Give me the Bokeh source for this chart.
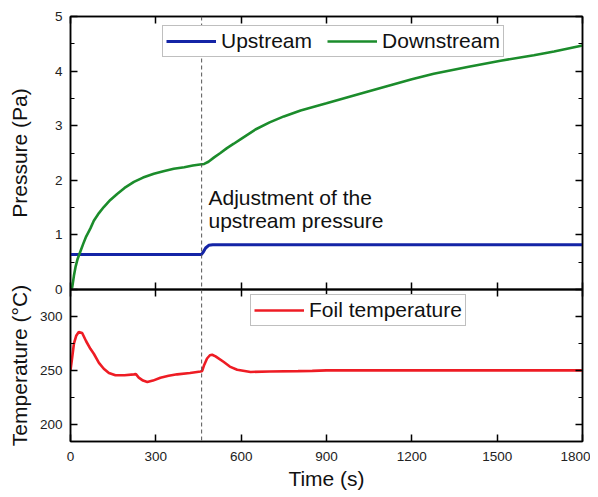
from bokeh.plotting import figure
from bokeh.models import (Range1d, SingleIntervalTicker, LinearAxis, Span, Legend,
                          LegendItem, Label)
from bokeh.layouts import column
from bokeh.embed import file_html
from bokeh.resources import INLINE

# ---------------- data ----------------
up_t = [0, 460, 466, 475, 486, 500, 1800]
up_p = [0.64, 0.64, 0.68, 0.76, 0.81, 0.82, 0.82]

down_t = [0, 6, 12, 18, 25, 35, 45, 55, 70, 82, 100, 117, 140, 164, 190, 223, 255,
          293, 330, 363, 400, 430, 455, 470, 485, 505, 527, 550, 574, 600, 650, 700,
          750, 809, 900, 1043, 1200, 1277, 1400, 1512, 1629, 1700, 1800]
down_p = [0.0, 0.04, 0.25, 0.42, 0.56, 0.70, 0.84, 0.97, 1.12, 1.26, 1.40, 1.51, 1.64,
          1.75, 1.86, 1.97, 2.05, 2.12, 2.17, 2.21, 2.24, 2.27, 2.29, 2.30, 2.34, 2.42,
          2.50, 2.59, 2.67, 2.76, 2.93, 3.06, 3.17, 3.28, 3.41, 3.62, 3.85, 3.95, 4.08,
          4.19, 4.29, 4.36, 4.47]

temp_t = [0, 6, 12, 20, 29, 41, 55, 70, 82, 100, 117, 135, 158, 190, 223, 230, 240,
          255, 270, 290, 316, 345, 375, 420, 457, 463, 470, 480, 490, 498, 510, 539,
          560, 586, 633, 700, 800, 850, 900, 1800]
temp_c = [250, 262, 274.7, 282, 285.5, 284.6, 277, 270, 265.4, 257, 251.5, 247.5,
          245.4, 245.5, 246.3, 246.5, 243.2, 240.5, 239.2, 240.5, 243.2, 245, 246.3,
          247.5, 249, 249.5, 255, 261, 264, 264.5, 263, 257.7, 253.5, 250.6, 248.5,
          249, 249.3, 249.5, 250, 250]

adjust_time = 461
x_ticks_interval = 300

FONT = "Liberation Sans"
BLUE = "#1424a6"
GREEN = "#1b8c2b"
RED = "#ee1c24"
OVER = 10  # canvas overlap so labels at the shared border are not clipped


def style_axis(ax, labels=True, minor=True):
    ax.axis_line_color = "black"
    ax.axis_line_width = 1.5
    ax.major_tick_in = 7
    ax.major_tick_out = 0
    ax.minor_tick_in = 4 if minor else 0
    ax.minor_tick_out = 0
    ax.major_tick_line_color = "black"
    ax.major_tick_line_width = 1.5
    ax.minor_tick_line_color = "black"
    ax.minor_tick_line_width = 1.2
    ax.major_label_text_font = FONT
    ax.major_label_text_font_size = "13.5px"
    ax.major_label_text_color = "#222222"
    ax.axis_label_text_font = FONT
    ax.axis_label_text_font_size = "21px"
    ax.axis_label_text_font_style = "normal"
    ax.axis_label_text_color = "#111111"
    if not labels:
        ax.major_label_text_font_size = "0px"
        ax.major_label_text_color = None
        ax.major_label_standoff = 0


# ---------------- top panel: pressure ----------------
top = figure(frame_width=512, frame_height=273, x_range=Range1d(0, 1800),
             y_range=Range1d(0, 5), output_backend="svg", toolbar_location=None,
             min_border_left=70, min_border_right=8, min_border_top=16,
             min_border_bottom=OVER, x_axis_location=None, y_axis_location=None)
top.grid.visible = False
top.outline_line_color = "black"
top.outline_line_width = 1.5

for loc, lab in (("left", True), ("right", False)):
    ax = LinearAxis(ticker=SingleIntervalTicker(interval=1, num_minor_ticks=2))
    style_axis(ax, labels=lab)
    if lab:
        ax.axis_label = "Pressure (Pa)"
        ax.major_label_standoff = 8
        ax.axis_label_standoff = 21
    top.add_layout(ax, loc)
for loc in ("above", "below"):
    ax = LinearAxis(ticker=SingleIntervalTicker(interval=x_ticks_interval, num_minor_ticks=0))
    style_axis(ax, labels=False, minor=False)
    top.add_layout(ax, loc)

r_up = top.line(up_t, up_p, line_color=BLUE, line_width=3)
r_down = top.line(down_t, down_p, line_color=GREEN, line_width=2.6)
top.add_layout(Span(location=adjust_time, dimension="height", line_color="#555555",
                    line_width=1, line_dash="4 3"))
top.add_layout(Label(x=485, y=1.89, text="Adjustment of the\nupstream pressure",
                     text_font=FONT, text_font_size="21px", text_baseline="top",
                     text_line_height=1.0, text_color="#111111"))

leg1 = Legend(items=[LegendItem(label="Upstream", renderers=[r_up]),
                     LegendItem(label="Downstream", renderers=[r_down])],
              orientation="horizontal", location=(92, 232))

# ---------------- bottom panel: temperature ----------------
bot = figure(frame_width=512, frame_height=152, x_range=top.x_range,
             y_range=Range1d(184, 325), output_backend="svg", toolbar_location=None,
             min_border_left=70, min_border_right=8, min_border_top=OVER,
             min_border_bottom=4, x_axis_location=None, y_axis_location=None,
             margin=(-2 * OVER, 0, 0, 0))
bot.grid.visible = False
bot.outline_line_color = "black"
bot.outline_line_width = 1.5
bot.border_fill_color = None
bot.background_fill_color = None

for loc, lab in (("left", True), ("right", False)):
    ax = LinearAxis(ticker=SingleIntervalTicker(interval=50, num_minor_ticks=2))
    style_axis(ax, labels=lab)
    if lab:
        ax.axis_label = "Temperature (°C)"
        ax.major_label_standoff = 8
        ax.axis_label_standoff = 6
    bot.add_layout(ax, loc)
for loc, lab in (("above", False), ("below", True)):
    ax = LinearAxis(ticker=SingleIntervalTicker(interval=x_ticks_interval, num_minor_ticks=0))
    style_axis(ax, labels=lab, minor=False)
    if lab:
        ax.axis_label = "Time (s)"
        ax.major_label_standoff = 10
        ax.axis_label_standoff = 3
    bot.add_layout(ax, loc)

r_temp = bot.line(temp_t, temp_c, line_color=RED, line_width=2.6)
bot.add_layout(Span(location=adjust_time, dimension="height", line_color="#555555",
                    line_width=1, line_dash="4 3"))

leg2 = Legend(items=[LegendItem(label="Foil temperature", renderers=[r_temp])],
              orientation="horizontal", location=(180, 115))

for lg in (leg1, leg2):
    lg.label_text_font = FONT
    lg.label_text_font_size = "21px"
    lg.label_text_color = "#111111"
    lg.glyph_width = 50
    lg.glyph_height = 20
    lg.label_standoff = 5
    lg.spacing = 15
    lg.padding = 3
    lg.margin = 0
    lg.border_line_color = "#808080"
    lg.border_line_width = 1
    lg.background_fill_color = "white"
    lg.background_fill_alpha = 1.0

top.add_layout(leg1)
bot.add_layout(leg2)

layout = column(top, bot, spacing=0)
open("out.html", "w").write(file_html(layout, INLINE))
